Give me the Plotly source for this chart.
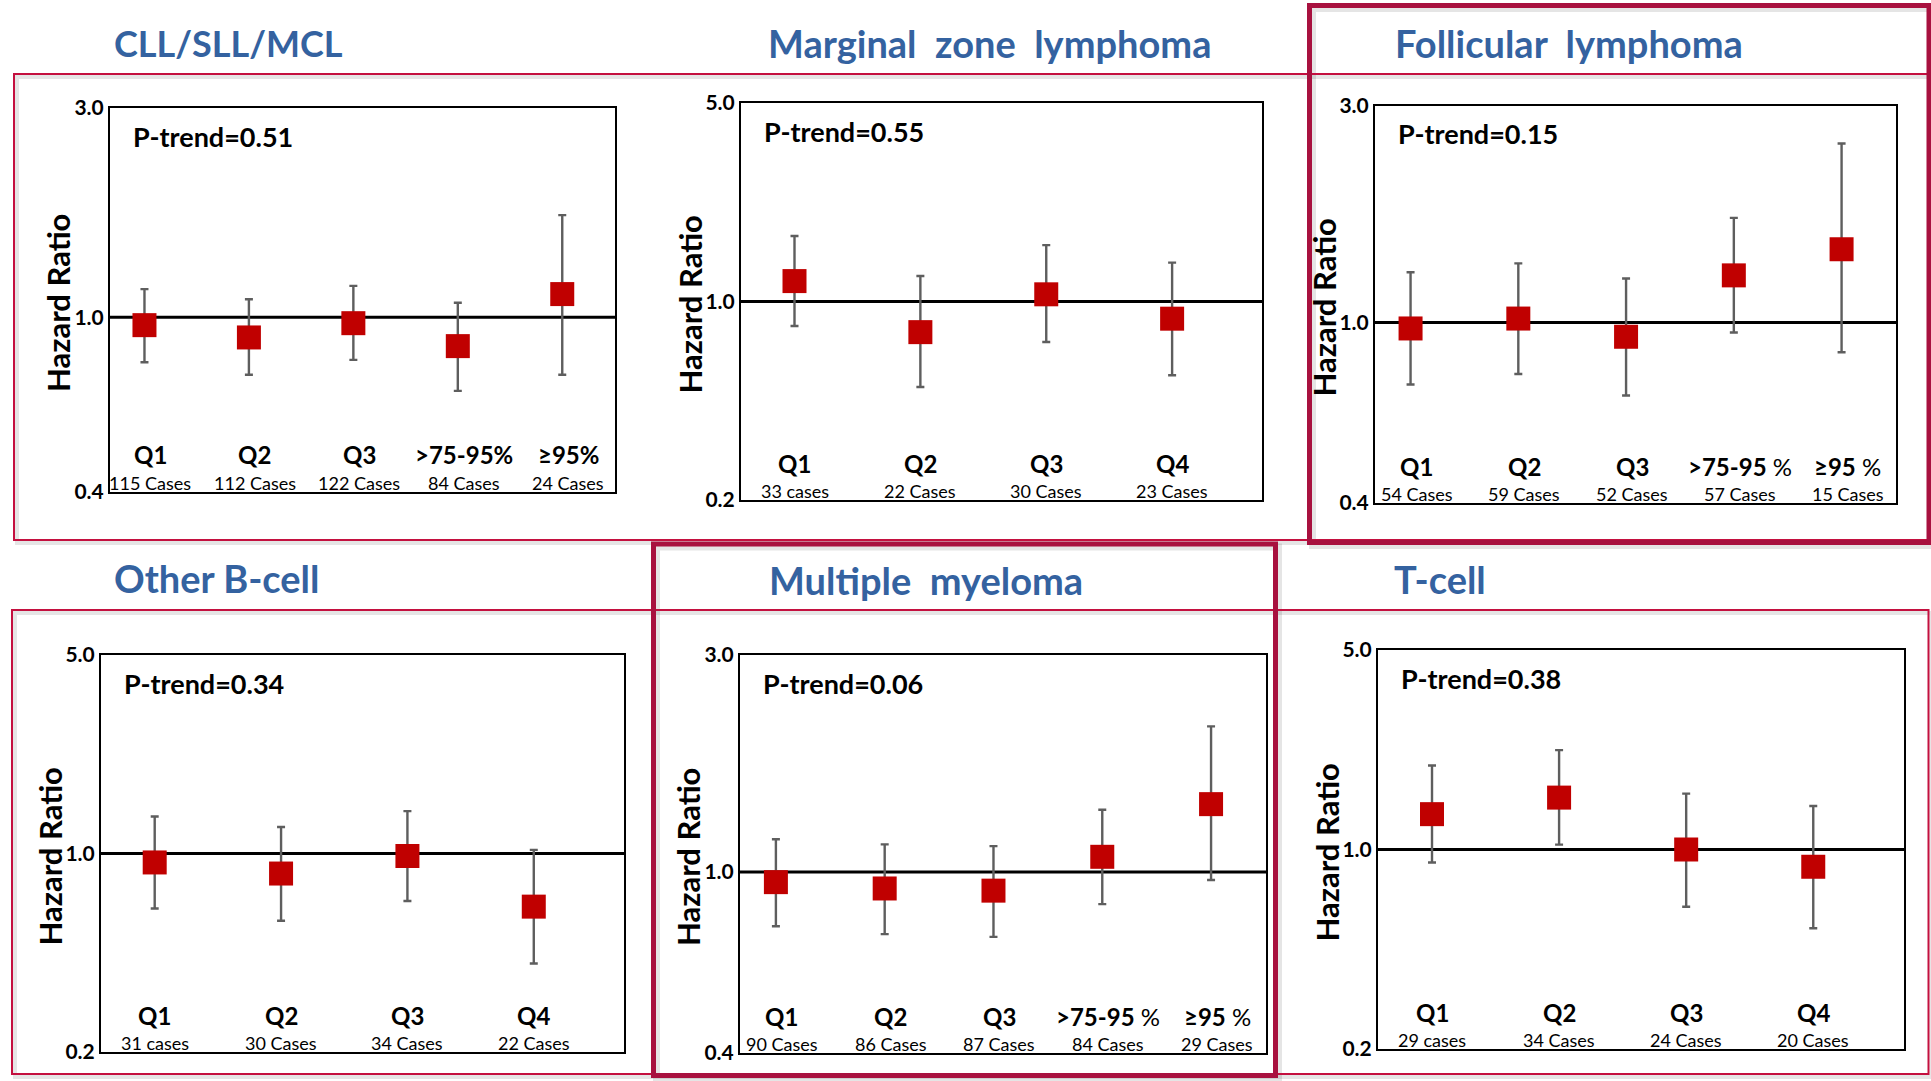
import math
import plotly.graph_objects as go

W, H = 1931, 1081

# ---------------- data ----------------
titles = ["CLL/SLL/MCL", "Marginal\u00a0 zone\u00a0 lymphoma", "Follicular\u00a0 lymphoma",
          "Other B-cell", "Multiple\u00a0 myeloma", "T-cell"]
p_trend = ["0.51", "0.55", "0.15", "0.34", "0.06", "0.38"]

cll_labels = ["Q1", "Q2", "Q3", ">75-95%", "≥95%"]
cll_cases = ["115 Cases", "112 Cases", "122 Cases", "84 Cases", "24 Cases"]
cll_hr = [0.96, 0.90, 0.97, 0.86, 1.13]
cll_lo = [0.79, 0.74, 0.80, 0.68, 0.74]
cll_hi = [1.16, 1.10, 1.18, 1.08, 1.71]

mzl_labels = ["Q1", "Q2", "Q3", "Q4"]
mzl_cases = ["33 cases", "22 Cases", "30 Cases", "23 Cases"]
mzl_hr = [1.18, 0.78, 1.06, 0.87]
mzl_lo = [0.82, 0.50, 0.72, 0.55]
mzl_hi = [1.70, 1.23, 1.58, 1.37]

fl_labels = ["Q1", "Q2", "Q3", ">75-95 %", "≥95 %"]
fl_cases = ["54 Cases", "59 Cases", "52 Cases", "57 Cases", "15 Cases"]
fl_hr = [0.97, 1.02, 0.93, 1.27, 1.45]
fl_lo = [0.73, 0.77, 0.69, 0.95, 0.86]
fl_hi = [1.29, 1.35, 1.25, 1.70, 2.48]

ob_labels = ["Q1", "Q2", "Q3", "Q4"]
ob_cases = ["31 cases", "30 Cases", "34 Cases", "22 Cases"]
ob_hr = [0.93, 0.85, 0.98, 0.65]
ob_lo = [0.64, 0.58, 0.68, 0.41]
ob_hi = [1.35, 1.24, 1.41, 1.03]

mm_labels = ["Q1", "Q2", "Q3", ">75-95 %", "≥95 %"]
mm_cases = ["90 Cases", "86 Cases", "87 Cases", "84 Cases", "29 Cases"]
mm_hr = [0.95, 0.92, 0.91, 1.08, 1.41]
mm_lo = [0.76, 0.73, 0.72, 0.85, 0.96]
mm_hi = [1.18, 1.15, 1.14, 1.37, 2.09]

tc_labels = ["Q1", "Q2", "Q3", "Q4"]
tc_cases = ["29 cases", "34 Cases", "24 Cases", "20 Cases"]
tc_hr = [1.33, 1.52, 1.00, 0.87]
tc_lo = [0.90, 1.04, 0.63, 0.53]
tc_hi = [1.97, 2.23, 1.57, 1.42]

axis_a = [0.4, 1.0, 3.0]
axis_a_text = ["0.4", "1.0", "3.0"]
axis_b = [0.2, 1.0, 5.0]
axis_b_text = ["0.2", "1.0", "5.0"]

panels = [
    (cll_labels, cll_cases, cll_hr, cll_lo, cll_hi, axis_a, axis_a_text),
    (mzl_labels, mzl_cases, mzl_hr, mzl_lo, mzl_hi, axis_b, axis_b_text),
    (fl_labels, fl_cases, fl_hr, fl_lo, fl_hi, axis_a, axis_a_text),
    (ob_labels, ob_cases, ob_hr, ob_lo, ob_hi, axis_b, axis_b_text),
    (mm_labels, mm_cases, mm_hr, mm_lo, mm_hi, axis_a, axis_a_text),
    (tc_labels, tc_cases, tc_hr, tc_lo, tc_hi, axis_b, axis_b_text),
]

# ---------------- layout geometry (pixels) ----------------
boxes = [  # left, right, top, bottom
    (110, 615, 108, 492),
    (741, 1262, 103, 500),
    (1375, 1896, 106, 503),
    (101, 624, 655, 1052),
    (740, 1266, 655, 1053),
    (1378, 1904, 650, 1049),
]
title_pos = [(112, 43), (766, 43), (1393, 43), (112, 578), (767, 580), (1392, 579)]
title_size = [36, 38, 38, 38, 38, 38]

TITLE_BLUE = "#3462A0"
RED_THIN = "#C4103F"
RED_BOLD = "#A8113F"
FONT = "Lato"

fig = go.Figure()
annotations = []
shapes = []
layout_axes = {}


def px_x(v):
    return v / W


def px_y(v):
    return 1 - v / H


for k, (labels, cases, hr, lo, hi, ticks, ticktext) in enumerate(panels, start=1):
    xa = "x" if k == 1 else f"x{k}"
    ya = "y" if k == 1 else f"y{k}"
    xkey = "xaxis" if k == 1 else f"xaxis{k}"
    ykey = "yaxis" if k == 1 else f"yaxis{k}"
    n = len(hr)
    left, right, top, bottom = boxes[k - 1]

    fig.add_trace(go.Scatter(
        x=list(range(n)), y=hr, mode="markers",
        marker=dict(symbol="square", size=24, color="#C00000", line=dict(width=0)),
        error_y=dict(type="data", symmetric=False,
                     array=[h - v for h, v in zip(hi, hr)],
                     arrayminus=[v - l for v, l in zip(hr, lo)],
                     color="#5E5E5E", thickness=2.4, width=4),
        xaxis=xa, yaxis=ya, showlegend=False, hoverinfo="skip"))

    xr = [-0.33, 4.505] if n == 5 else [-0.425, 3.714]
    layout_axes[xkey] = dict(
        domain=[px_x(left), px_x(right)], range=xr, anchor=ya,
        showticklabels=False, showgrid=False, zeroline=False, ticks="",
        showline=True, mirror=True, linecolor="black", linewidth=2)
    layout_axes[ykey] = dict(
        domain=[px_y(bottom), px_y(top)], type="log",
        range=[math.log10(ticks[0]), math.log10(ticks[-1])], anchor=xa,
        tickvals=ticks, ticktext=ticktext, ticks="",
        tickfont=dict(family=FONT, size=21, color="black", weight="bold"),
        showgrid=False, zeroline=False,
        showline=True, mirror=True, linecolor="black", linewidth=2)

    # reference line at HR = 1
    shapes.append(dict(type="line", xref=f"{xa} domain", x0=0, x1=1,
                       yref=ya, y0=1, y1=1, layer="below",
                       line=dict(color="black", width=3)))

    # P-trend text
    annotations.append(dict(
        text=f"P-trend={p_trend[k - 1]}", xref=f"{xa} domain", x=0, xanchor="left",
        xshift=21, yref=f"{ya} domain", y=1, yanchor="middle", yshift=-28,
        showarrow=False, font=dict(family=FONT, size=27, color="black", weight="bold")))

    # y title
    annotations.append(dict(
        text="Hazard Ratio", xref=f"{xa} domain", x=0, xanchor="center", xshift=-52,
        yref=f"{ya} domain", y=0.5, yanchor="middle", yshift=-3, textangle=-90,
        showarrow=False, font=dict(family=FONT, size=31, color="black", weight="bold")))

    shift = 6 if n == 5 else 0
    for i, (lab, cs) in enumerate(zip(labels, cases)):
        if " %" in lab:
            txt = "<b>" + lab.replace(" %", "") + "</b> %"
            wt = "normal"
        else:
            txt = lab
            wt = "bold"
        annotations.append(dict(
            text=txt, xref=xa, x=i, xshift=shift, xanchor="center",
            yref=f"{ya} domain", y=0, yshift=37, yanchor="middle",
            showarrow=False, font=dict(family=FONT, size=24, color="black", weight=wt)))
        annotations.append(dict(
            text=cs, xref=xa, x=i, xshift=shift, xanchor="center",
            yref=f"{ya} domain", y=0, yshift=9, yanchor="middle",
            showarrow=False, font=dict(family=FONT, size=18, color="black")))

    tx, ty = title_pos[k - 1]
    annotations.append(dict(
        text=titles[k - 1], xref="paper", x=px_x(tx), xanchor="left",
        yref="paper", y=px_y(ty), yanchor="middle", showarrow=False,
        font=dict(family=FONT, size=title_size[k - 1], color=TITLE_BLUE, weight="bold")))


def rect(x0, y0, x1, y1, color, width):
    return dict(type="rect", xref="paper", yref="paper",
                x0=px_x(x0), x1=px_x(x1), y0=px_y(y1), y1=px_y(y0),
                line=dict(color=color, width=width), fillcolor="rgba(0,0,0,0)",
                layer="above")


frames = [
    (14, 74, 1929, 540, RED_THIN, 2),
    (12, 610, 1928.5, 1074, RED_THIN, 2),
    (1309.5, 5.5, 1929, 542.5, RED_BOLD, 5),
    (653.5, 544, 1275.5, 1075.5, RED_BOLD, 5),
]
for (x0, y0, x1, y1, c, w) in frames:
    shapes.append(rect(x0 + 3, y0 + 3, x1 + 3, y1 + 3, "rgba(0,0,0,0.10)", w + 2))
for (x0, y0, x1, y1, c, w) in frames:
    shapes.append(rect(x0, y0, x1, y1, c, w))

fig.update_layout(
    width=W, height=H, margin=dict(l=0, r=0, t=0, b=0, autoexpand=False),
    paper_bgcolor="white", plot_bgcolor="white",
    showlegend=False, annotations=annotations, shapes=shapes,
    **layout_axes)

fig.write_html("out.html")
